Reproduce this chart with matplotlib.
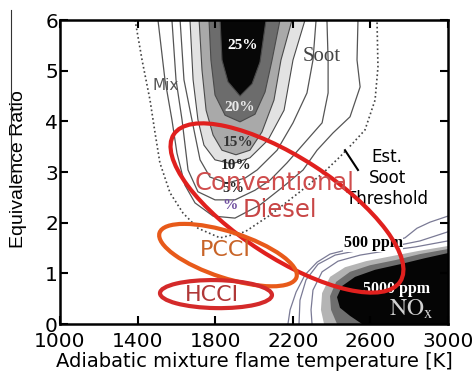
import matplotlib
matplotlib.use("Agg")
import matplotlib.pyplot as plt
from matplotlib.patches import Ellipse
from matplotlib.transforms import Affine2D

XLIM = (1000, 3000)
YLIM = (0, 6)
XTICKS = [1000, 1400, 1800, 2200, 2600, 3000]
YTICKS = [0, 1, 2, 3, 4, 5, 6]

# --- soot iso-lines (T [K], phi) ---
SOOT25_T = [1825, 1835, 1866, 1928, 1990, 2031, 2062]
SOOT25_P = [6.00, 5.21, 4.78, 4.50, 4.74, 5.17, 6.00]
SOOT20_T = [1768, 1778, 1799, 1851, 1928, 2005, 2057, 2093, 2134]
SOOT20_P = [6.00, 5.21, 4.52, 4.12, 3.99, 4.14, 4.58, 5.21, 6.00]
SOOT15_T = [1717, 1732, 1753, 1789, 1835, 1907, 1979, 2041, 2103, 2139, 2196]
SOOT15_P = [6.00, 5.01, 4.22, 3.73, 3.43, 3.34, 3.43, 3.79, 4.42, 5.21, 6.00]
SOOT10_T = [1670, 1686, 1711, 1742, 1799, 1887, 1979, 2072, 2155, 2201, 2263]
SOOT10_P = [6.00, 4.82, 4.03, 3.53, 3.24, 3.16, 3.28, 3.63, 4.22, 5.21, 6.00]
SOOT_A_T = [1619, 1639, 1680, 1722, 1773, 1861, 1954, 2016, 2119, 2201, 2273, 2304, 2320]
SOOT_A_P = [6.00, 4.82, 4.03, 3.24, 2.90, 2.78, 2.88, 3.04, 3.43, 3.97, 4.56, 5.21, 6.00]
SOOT_B_T = [1577, 1598, 1629, 1660, 1711, 1799, 1902, 2005, 2083, 2170, 2273, 2351, 2382, 2382, 2376]
SOOT_B_P = [6.00, 4.82, 4.03, 3.04, 2.61, 2.45, 2.45, 2.64, 2.84, 3.18, 3.63, 3.97, 4.56, 5.21, 6.00]
SOOT_C_T = [1505, 1541, 1577, 1603, 1644, 1696, 1789, 1902, 2031, 2160, 2253, 2325, 2407,
            2495, 2547, 2531, 2536]
SOOT_C_P = [6.00, 4.82, 4.03, 3.37, 2.74, 2.39, 2.13, 2.09, 2.35, 2.74, 3.04, 3.43, 3.77,
            4.09, 4.68, 5.21, 6.00]
# mixing / estimated soot threshold (dotted)
THRESH_T = [1387, 1423, 1464, 1490, 1515, 1567, 1634, 1711, 1825, 1954, 2083, 2237, 2356,
            2443, 2510, 2572, 2624, 2639, 2634]
THRESH_P = [6.00, 5.21, 4.42, 3.77, 3.18, 2.59, 2.19, 1.89, 1.70, 1.82, 2.15, 2.61, 2.98,
            3.30, 3.57, 3.83, 4.42, 5.07, 6.00]

# --- NOx iso-lines ---
NOX_IN_T = [3000, 2882, 2753, 2624, 2521, 2454, 2428, 2443, 2495, 2557]
NOX_IN_P = [1.40, 1.30, 1.18, 1.07, 0.93, 0.75, 0.53, 0.32, 0.16, 0.00]
NOX_D_T = [3000, 2856, 2727, 2598, 2495, 2423, 2392, 2397, 2428]
NOX_D_P = [1.48, 1.38, 1.26, 1.16, 1.03, 0.83, 0.55, 0.28, 0.00]
NOX_L_T = [3000, 2845, 2711, 2577, 2469, 2392, 2351, 2345, 2361]
NOX_L_P = [1.54, 1.44, 1.34, 1.24, 1.12, 0.93, 0.61, 0.28, 0.00]
NOX_1_T = [3000, 2830, 2675, 2547, 2433, 2351, 2304, 2294, 2299]
NOX_1_P = [1.64, 1.52, 1.44, 1.36, 1.24, 1.03, 0.67, 0.28, 0.00]
NOX_2_T = [3000, 2856, 2701, 2547, 2418, 2330, 2268, 2237, 2232]
NOX_2_P = [1.82, 1.64, 1.52, 1.46, 1.36, 1.18, 0.87, 0.47, 0.00]
NOX_500_T = [3000, 2907, 2840, 2778, 2650, 2495, 2392, 2325, 2263, 2217, 2186, 2175]
NOX_500_P = [2.13, 2.01, 1.89, 1.70, 1.56, 1.48, 1.38, 1.22, 0.97, 0.63, 0.28, 0.00]

# combustion-mode regions: centre (T, phi), half axes [px], tilt [deg]
MODES = {
    "Conventional": ((2170, 2.29), 135, 50, -33, "#e0201e"),
    "PCCI": ((1866, 1.36), 72, 23, -18, "#e85a1a"),
    "HCCI": ((1804, 0.59), 56, 14, -1, "#d42a2a"),
}


def mode_ellipse(ax, center, a_px, b_px, angle, color):
    bb = ax.get_window_extent()
    kx = (XLIM[1] - XLIM[0]) / bb.width
    ky = (YLIM[1] - YLIM[0]) / bb.height
    e = Ellipse((0, 0), 2 * a_px, 2 * b_px, angle=angle, fill=False,
                edgecolor=color, lw=3, zorder=5)
    e.set_transform(Affine2D().scale(kx, ky).translate(*center) + ax.transData)
    ax.add_patch(e)


def main():
    fig = plt.figure(figsize=(4.77, 3.71), dpi=100)
    ax = fig.add_axes([60 / 477, 47 / 371, 388 / 477, 304 / 371])
    ax.set_xlim(*XLIM)
    ax.set_ylim(*YLIM)

    # soot filled bands
    for T, P, c in [(SOOT10_T, SOOT10_P, "#e2e2e2"), (SOOT15_T, SOOT15_P, "#a9a9a9"),
                    (SOOT20_T, SOOT20_P, "#6c6c6c"), (SOOT25_T, SOOT25_P, "#070707")]:
        ax.fill(T, P, color=c, lw=0, zorder=1)
        ax.plot(T, P, color="#4a4a4a", lw=0.8, zorder=2)
    for T, P in [(SOOT_A_T, SOOT_A_P), (SOOT_B_T, SOOT_B_P), (SOOT_C_T, SOOT_C_P)]:
        ax.plot(T, P, color="#555555", lw=0.9, zorder=2)
    ax.plot(THRESH_T, THRESH_P, color="#444444", lw=1.2, ls=(0, (1, 1.6)), zorder=2)

    # NOx filled bands
    for T, P, c in [(NOX_L_T, NOX_L_P, "#b4b4b4"), (NOX_D_T, NOX_D_P, "#6e6e6e"),
                    (NOX_IN_T, NOX_IN_P, "#050505")]:
        ax.fill(T + [XLIM[1]], P + [YLIM[0]], color=c, lw=0, zorder=1)
    for T, P in [(NOX_1_T, NOX_1_P), (NOX_2_T, NOX_2_P), (NOX_500_T, NOX_500_P)]:
        ax.plot(T, P, color="#7a7a95", lw=0.9, zorder=2)

    for name, (c, a, b, ang, col) in MODES.items():
        mode_ellipse(ax, c, a, b, ang, col)

    serif = "Liberation Serif"
    ax.text(1943, 5.49, "25%", color="white", fontsize=11, family=serif,
            fontweight="bold", ha="center", va="center", zorder=3)
    ax.text(1928, 4.28, "20%", color="#e8e8e8", fontsize=11, family=serif,
            fontweight="bold", ha="center", va="center", zorder=3)
    ax.text(1917, 3.59, "15%", color="#333333", fontsize=11, family=serif,
            fontweight="bold", ha="center", va="center", zorder=3)
    ax.text(1907, 3.12, "10%", color="#222222", fontsize=11, family=serif,
            fontweight="bold", ha="center", va="center", zorder=3)
    ax.text(1892, 2.68, "5%", color="#222222", fontsize=10.5, family=serif,
            fontweight="bold", ha="center", va="center", zorder=3)
    ax.text(1876, 2.33, "%", color="#7050a0", fontsize=11, family=serif,
            fontweight="bold", ha="center", va="center", zorder=3)
    ax.text(1546, 4.70, "Mix", color="#555555", fontsize=11,
            ha="center", va="center", zorder=3)
    ax.text(2351, 5.27, "Soot", color="#444444", fontsize=15, family=serif,
            ha="center", va="center", zorder=3)
    ax.text(2686, 2.88, "Est.\nSoot\nThreshold", color="black", fontsize=12,
            ha="center", va="center", zorder=4, linespacing=1.2,
            bbox=dict(facecolor="white", edgecolor="none", pad=1))
    ax.plot([2469, 2536], [3.43, 3.04], color="black", lw=1.5, zorder=4)
    ax.text(2614, 1.60, "500 ppm", color="black", fontsize=11.5, family=serif,
            fontweight="bold", ha="center", va="center", zorder=4,
            bbox=dict(facecolor="white", edgecolor="none", pad=0.5))
    ax.text(2737, 0.69, "5000 ppm", color="white", fontsize=11.5, family=serif,
            fontweight="bold", ha="center", va="center", zorder=4)
    ax.text(2809, 0.30, r"$\mathrm{NO_x}$", color="#d0d0d0", fontsize=17,
            math_fontfamily="stix", ha="center", va="center", zorder=4)

    ax.text(2108, 2.78, "Conventional", color="#cf4c4c", fontsize=17.5,
            ha="center", va="center", zorder=6)
    ax.text(2134, 2.25, "Diesel", color="#c84646", fontsize=17.5,
            ha="center", va="center", zorder=6)
    ax.text(1851, 1.46, "PCCI", color="#c86428", fontsize=16,
            ha="center", va="center", zorder=6)
    ax.text(1784, 0.57, "HCCI", color="#b03838", fontsize=16,
            ha="center", va="center", zorder=6)

    ax.set_xticks(XTICKS)
    ax.set_yticks(YTICKS)
    ax.tick_params(direction="in", length=6, width=1.5, top=True, right=True,
                   labelsize=14.5)
    ax.tick_params(axis="x", pad=6)
    ax.tick_params(axis="y", pad=1.5)
    for s in ax.spines.values():
        s.set_linewidth(1.8)

    ax.set_xlabel("Adiabatic mixture flame temperature [K]", fontsize=14)
    ax.xaxis.set_label_coords(0.5, -0.093)
    ax.set_ylabel("Equivalence Ratio", fontsize=14, family="Liberation Sans")
    ax.yaxis.set_label_coords(-0.085, 0.51)

    fig.add_artist(plt.Line2D([11 / 477, 11 / 477], [361 / 371, 189 / 371],
                              color="#333333", lw=0.8))

    fig.savefig("out.png", dpi=100)


if __name__ == "__main__":
    main()
